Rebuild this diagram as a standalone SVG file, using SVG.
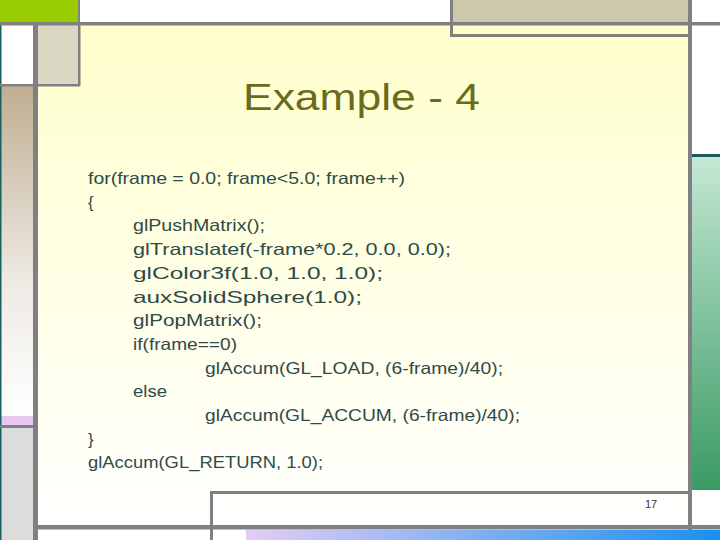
<svg xmlns="http://www.w3.org/2000/svg" width="720" height="540" viewBox="0 0 720 540">
<defs>
<linearGradient id="main" x1="0" y1="0" x2="0" y2="1"><stop offset="0" stop-color="#ffffcc"/><stop offset="1" stop-color="#ffffff"/></linearGradient>
<linearGradient id="tan" x1="0" y1="0" x2="0" y2="1"><stop offset="0" stop-color="#c0ae92"/><stop offset="0.6" stop-color="#eeeae4"/><stop offset="1" stop-color="#ffffff"/></linearGradient>
<linearGradient id="green" x1="0" y1="0" x2="0" y2="1"><stop offset="0" stop-color="#c4e8d4"/><stop offset="1" stop-color="#3a9a64"/></linearGradient>
<linearGradient id="blue" x1="0" y1="0" x2="1" y2="0"><stop offset="0" stop-color="#e4cdf4"/><stop offset="1" stop-color="#1890f0"/></linearGradient>
<style>
.ln{fill:#808080}
.code{font-family:"Liberation Sans",Arial,sans-serif;font-size:16.5px;fill:#2f4a48}
</style>
</defs>
<rect width="720" height="540" fill="#ffffff"/>
<rect x="38" y="25" width="650" height="500" fill="url(#main)"/>
<rect x="0" y="0" width="78" height="22" fill="#99cc00"/>
<rect x="450" y="0" width="238" height="22" fill="#ccc8aa"/>
<rect x="38" y="25" width="40" height="59" fill="#d8d8c4"/>
<rect x="0" y="86" width="33" height="330" fill="url(#tan)"/>
<rect x="0" y="416" width="33" height="9" fill="#e8c8f0"/>
<rect x="0" y="428" width="33" height="112" fill="#dcdcdc"/>
<rect x="0" y="25" width="1.5" height="515" fill="#1a6060"/>
<rect x="692" y="157" width="28" height="333" fill="url(#green)"/>
<rect x="692" y="154" width="28" height="3" fill="#1a5a5a"/>
<rect x="246" y="530" width="474" height="10" fill="url(#blue)"/>
<g id="frame">
<rect class="ln" x="0" y="22" width="720" height="3.5"/>
<rect class="ln" x="33" y="22" width="5" height="518"/>
<rect class="ln" x="688" y="0" width="4" height="530"/>
<rect class="ln" x="38" y="525" width="682" height="4.5"/>
<rect class="ln" x="450" y="0" width="3" height="37"/>
<rect class="ln" x="450" y="34" width="238" height="3"/>
<rect class="ln" x="78" y="0" width="2" height="25"/>
<rect class="ln" x="78" y="25" width="2.5" height="61"/>
<rect class="ln" x="0" y="84" width="80" height="2.5"/>
<rect class="ln" x="0" y="425" width="33" height="3"/>
<rect class="ln" x="210" y="491" width="478" height="3"/>
<rect class="ln" x="210" y="491" width="3" height="49"/>
</g>
<text x="243" y="110" textLength="237" lengthAdjust="spacingAndGlyphs" font-family="Liberation Sans,Arial,sans-serif" font-size="36" fill="#6b6b1e">Example - 4</text>
<g class="code">
<text x="88" y="184" textLength="317" lengthAdjust="spacingAndGlyphs">for(frame = 0.0; frame&lt;5.0; frame++)</text>
<text x="88" y="207.7">{</text>
<text x="133" y="231.4" textLength="132" lengthAdjust="spacingAndGlyphs">glPushMatrix();</text>
<text x="133" y="255.1" textLength="318" lengthAdjust="spacingAndGlyphs">glTranslatef(-frame*0.2, 0.0, 0.0);</text>
<text x="133" y="278.8" textLength="250" lengthAdjust="spacingAndGlyphs">glColor3f(1.0, 1.0, 1.0);</text>
<text x="133" y="302.5" textLength="229" lengthAdjust="spacingAndGlyphs">auxSolidSphere(1.0);</text>
<text x="133" y="326.2" textLength="129" lengthAdjust="spacingAndGlyphs">glPopMatrix();</text>
<text x="133" y="349.9" textLength="104" lengthAdjust="spacingAndGlyphs">if(frame==0)</text>
<text x="205" y="373.6" textLength="298" lengthAdjust="spacingAndGlyphs">glAccum(GL_LOAD, (6-frame)/40);</text>
<text x="133" y="397.3" textLength="34" lengthAdjust="spacingAndGlyphs">else</text>
<text x="205" y="421" textLength="315" lengthAdjust="spacingAndGlyphs">glAccum(GL_ACCUM, (6-frame)/40);</text>
<text x="88" y="444.7">}</text>
<text x="88" y="468.4" textLength="235" lengthAdjust="spacingAndGlyphs">glAccum(GL_RETURN, 1.0);</text>
</g>
<text x="645" y="508" font-family="Liberation Sans,Arial,sans-serif" font-size="11" fill="#333333">17</text>
</svg>
